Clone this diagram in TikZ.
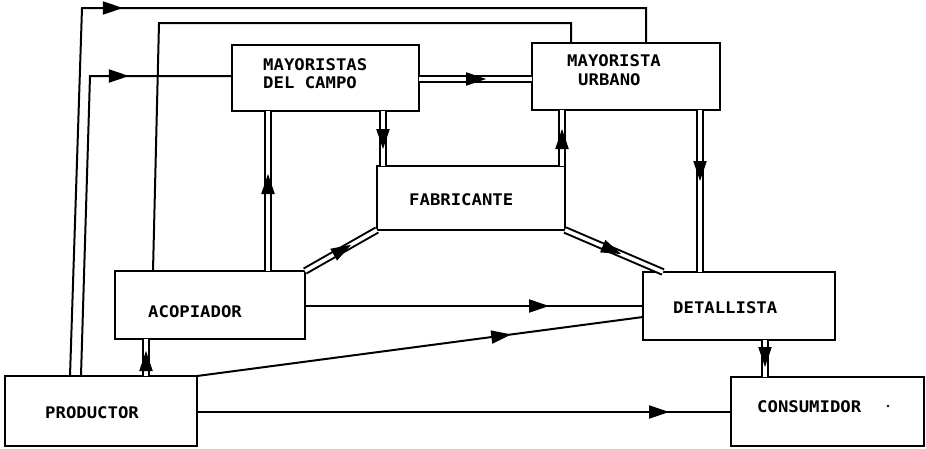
\documentclass[tikz,border=0pt]{standalone}
\usepackage{fontspec}
\newfontfamily\plotfont[FakeStretch=1.08]{DejaVu Sans Mono}
\usetikzlibrary{calc,decorations.markings}
\begin{document}
\begin{tikzpicture}[x=1pt,y=-1pt,
  box/.style={draw, line width=2pt, inner sep=0pt, outer sep=0pt, anchor=north west},
  lbl/.style={font=\plotfont\bfseries\fontsize{16}{19}\selectfont, inner sep=0pt, anchor=base west},
  ln/.style={line width=2pt},
  dbl/.style={line width=2pt, double=white, double distance=3.6pt},
  marr/.style={postaction={decorate, decoration={markings, mark=at position #1 with {\fill[draw=none] (1pt,0) -- (-19pt,6.8pt) -- (-19pt,-6.8pt) -- cycle;}}}}]
\useasboundingbox (0,0) rectangle (926,448);
% boxes
\node[box, minimum width=187pt, minimum height=66pt] (mc) at (232,45) {};
\node[box, minimum width=188pt, minimum height=67pt] (mu) at (532,43) {};
\node[box, minimum width=188pt, minimum height=64pt] (fab) at (377,166) {};
\node[box, minimum width=190pt, minimum height=68pt] (acop) at (115,271) {};
\node[box, minimum width=192pt, minimum height=68pt] (det) at (643,272) {};
\node[box, minimum width=192pt, minimum height=70pt] (prod) at (5,376) {};
\node[box, minimum width=193pt, minimum height=69pt] (cons) at (731,377) {};
% labels
\node[lbl] (t1) at (263,70) {MAYORISTAS};
\node[lbl] (t2) at (263,88) {DEL CAMPO};
\node[lbl] (t3) at (567,66) {MAYORISTA};
\node[lbl] (t4) at (578,85) {URBANO};
\node[lbl] (t5) at (409,205) {FABRICANTE};
\node[lbl] (t6) at (148,317) {ACOPIADOR};
\node[lbl] (t7) at (673,313) {DETALLISTA};
\node[lbl] (t8) at (45,418) {PRODUCTOR};
\node[lbl] (t9) at (757,412) {CONSUMIDOR};
\fill (888,406) circle (1.3pt);
% coordinates
\coordinate (c1a) at (70,0); \coordinate (c1b) at (82,8); \coordinate (c1c) at (646,8);
\coordinate (c2a) at (81,0); \coordinate (c2b) at (90,76);
\coordinate (c3a) at (153,0); \coordinate (c3b) at (159,23); \coordinate (c3c) at (571,23);
\coordinate (x4) at (268,0); \coordinate (x5) at (383,0); \coordinate (y6) at (0,79);
\coordinate (x7) at (562,0); \coordinate (x8) at (700,0); \coordinate (x10) at (663,0);
\coordinate (y11) at (0,306); \coordinate (y12) at (0,317); \coordinate (y13) at (0,412);
\coordinate (x14) at (146,0); \coordinate (x15) at (765,0);
% single connectors
\draw[ln, marr=408pt] (prod.north -| c1a) -- (c1b) -- (c1c) -- (mu.north -| c1c);
\draw[ln, marr=338pt] (prod.north -| c2a) -- (c2b) -- (mc.west |- c2b);
\draw[ln] (acop.north -| c3a) -- (c3b) -- (c3c) -- (mu.north -| c3c);
\draw[ln, marr=243pt] (acop.east |- y11) -- (det.west |- y11);
\draw[ln, marr=316pt] (prod.north east) -- (det.west |- y12);
\draw[ln, marr=471pt] (prod.east |- y13) -- (cons.west |- y13);
% double connectors
\draw[dbl, marr=96pt] (acop.north -| x4) -- (mc.south -| x4);
\draw[dbl, marr=37pt] (mc.south -| x5) -- (fab.north -| x5);
\draw[dbl, marr=66pt] (mc.east |- y6) -- (mu.west |- y6);
\draw[dbl, marr=36pt] (fab.north -| x7) -- (mu.south -| x7);
\draw[dbl, marr=70pt] (mu.south -| x8) -- (det.north -| x8);
\draw[dbl, marr=52pt] (acop.north east) -- (fab.south west);
\draw[dbl, marr=60pt] (fab.south east) -- (det.north -| x10);
\draw[dbl, marr=24pt] (prod.north -| x14) -- (acop.south -| x14);
\draw[dbl, marr=26pt] (det.south -| x15) -- (cons.north -| x15);
\end{tikzpicture}
\end{document}
